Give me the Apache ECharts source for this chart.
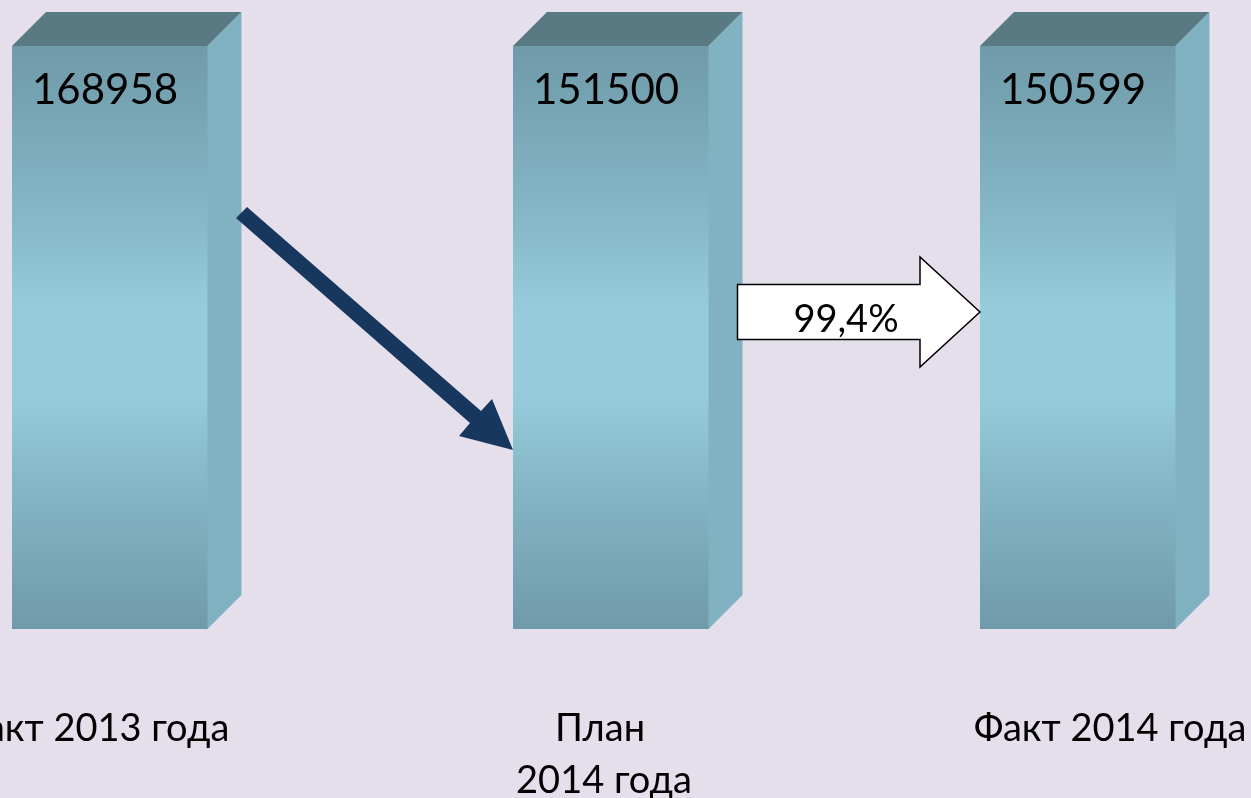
<!DOCTYPE html>
<html>
<head>
<meta charset="utf-8">
<title>Факт и план</title>
<script src="https://cdn.jsdelivr.net/npm/echarts@6/dist/echarts.min.js"></script>
<style>
html, body { margin: 0; padding: 0; background: #e5dfec; overflow: hidden; }
#chart { width: 1251px; height: 798px; }
</style>
</head>
<body>
<div id="chart"></div>
<script>
// data
var categories = ['Факт 2013 года', 'План\n2014 года', 'Факт 2014 года'];
var values = [168958, 151500, 150599];
var barHeights = [100, 100, 100]; // in the picture all columns are drawn the same height
var percentLabel = '99,4%';

// layout
var FONT = 'Lato, "Noto Sans", sans-serif';
var barStart = [0, 501, 968];
var barW = 195.5;
var depth = 34;

var chart = echarts.init(document.getElementById('chart'));

function renderBar(params, api) {
    var i = params.dataIndex;
    var tl = api.coord([api.value(0), api.value(1)]);
    var bl = api.coord([api.value(0), 0]);
    var w = api.size([barW, 0])[0];
    return {
        type: 'group',
        children: [
            { type: 'polygon',
              shape: { points: [[tl[0], tl[1]], [tl[0] + depth, tl[1] - depth], [tl[0] + w + depth, tl[1] - depth], [tl[0] + w, tl[1]]] },
              style: { fill: '#5a7a83' } },
            // side face runs 1px under the front so no seam shows
            { type: 'polygon',
              shape: { points: [[tl[0] + w - 1, tl[1]], [tl[0] + w, tl[1]], [tl[0] + w + depth, tl[1] - depth], [bl[0] + w + depth, bl[1] - depth], [bl[0] + w, bl[1]], [bl[0] + w - 1, bl[1]]] },
              style: { fill: '#80b2c1' } },
            { type: 'rect',
              shape: { x: tl[0], y: tl[1], width: w, height: bl[1] - tl[1] },
              style: { fill: new echarts.graphic.LinearGradient(0, 0, 0, 1, [
                  { offset: 0, color: '#6f9aa9' },
                  { offset: 0.28, color: '#84b6c5' },
                  { offset: 0.45, color: '#95ccdb' },
                  { offset: 0.6, color: '#95ccdb' },
                  { offset: 0.76, color: '#84b6c5' },
                  { offset: 1, color: '#6f9aa9' }
              ]) } },
            { type: 'text',
              style: { text: String(values[i]), x: tl[0] + 20, y: tl[1] + 44, fill: '#000', font: '42px ' + FONT,
                       textAlign: 'left', textVerticalAlign: 'middle' } }
        ]
    };
}

function catText(text, x, y) {
    return { type: 'text', z: 11, x: x, y: y,
        style: { text: text, fill: '#000', font: '38px ' + FONT, textAlign: 'center', textVerticalAlign: 'middle' } };
}

var planLines = categories[1].split('\n');

var option = {
    backgroundColor: '#e5dfec',
    animation: false,
    grid: { left: 12, top: 46, width: 1164, height: 583 },
    xAxis: { type: 'value', min: 0, max: 1164, show: false },
    yAxis: { type: 'value', min: 0, max: 100, show: false },
    series: [{
        type: 'custom',
        clip: false,
        renderItem: renderBar,
        data: barStart.map(function (x, i) { return [x, barHeights[i]]; })
    }],
    graphic: [
        // dark arrow from first column to plan
        { type: 'polygon', z: 10,
          shape: { points: [[247, 207], [481, 411], [492, 399], [513, 450], [459, 436], [470, 423], [236, 218]] },
          style: { fill: '#17375e' } },
        // white block arrow
        { type: 'polygon', z: 10,
          shape: { points: [[737.5, 284.5], [920, 284.5], [920, 257], [980, 312], [920, 367], [920, 339.5], [737.5, 339.5]] },
          style: { fill: '#fff', stroke: '#000', lineWidth: 1.5 } },
        { type: 'text', z: 11, x: 846, y: 320,
          style: { text: percentLabel, fill: '#000', font: '38px ' + FONT, textAlign: 'center', textVerticalAlign: 'middle' } },
        catText(categories[0], 93, 729),
        catText(planLines[0], 600, 729),
        catText(planLines[1], 604, 781),
        catText(categories[2], 1110, 729)
    ]
};
chart.setOption(option);
</script>
</body>
</html>
